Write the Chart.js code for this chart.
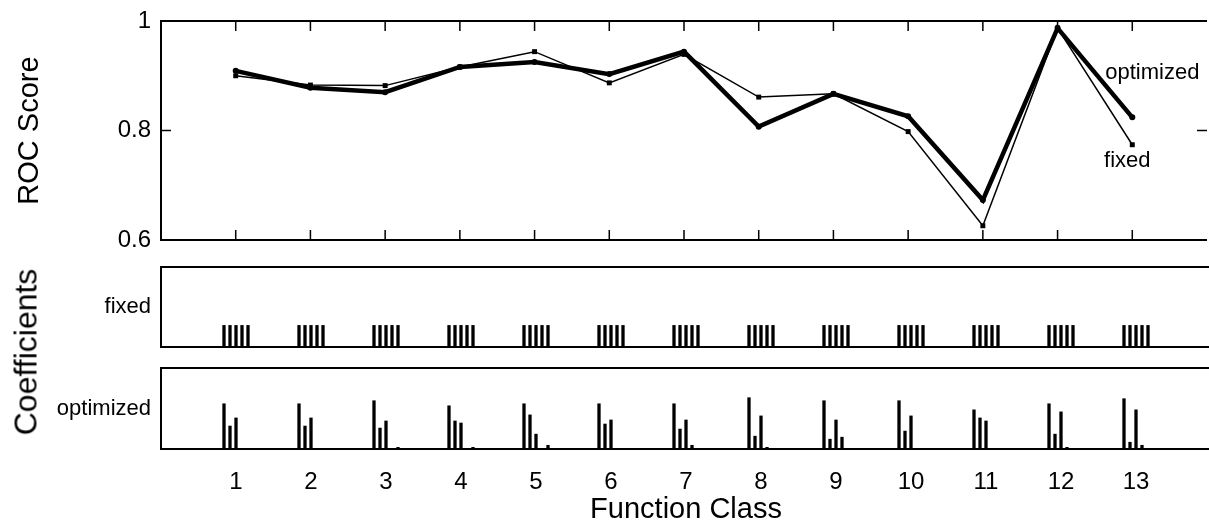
<!DOCTYPE html>
<html>
<head>
<meta charset="utf-8">
<script src="https://cdn.jsdelivr.net/npm/chart.js@4.4.1/dist/chart.umd.min.js"></script>
<style>
  html, body { margin: 0; padding: 0; background: #fff; }
  body { width: 1209px; height: 529px; overflow: hidden; position: relative; font-family: "Liberation Sans", Arial, sans-serif; }
  canvas { position: absolute; left: 0; }
  #roc { top: -9px; }
  #fixed { top: 237px; }
  #opt { top: 338px; }
  .coef-title { position: absolute; left: 26px; top: 352px; transform: translate(-50%, -50%) rotate(-90deg); font-size: 32px; color: #000; white-space: nowrap; }
</style>
</head>
<body>
<canvas id="roc" width="1211" height="279"></canvas>
<canvas id="fixed" width="1211" height="140"></canvas>
<canvas id="opt" width="1211" height="191"></canvas>
<div class="coef-title">Coefficients</div>
<script>
// function classes on the x axis
const classes = [1, 2, 3, 4, 5, 6, 7, 8, 9, 10, 11, 12, 13];
const classLabels = ['1', '2', '3', '4', '5', '6', '7', '8', '9', '10', '11', '12', '13'];

// ROC scores
const rocOptimized = [0.909, 0.878, 0.870, 0.916, 0.925, 0.903, 0.944, 0.807, 0.867, 0.826, 0.673, 0.987, 0.824];
const rocFixed     = [0.900, 0.883, 0.882, 0.916, 0.944, 0.887, 0.939, 0.861, 0.867, 0.798, 0.626, 0.987, 0.774];
const rocTicks = [0.6, 0.8, 1];
const rocTickLabels = ['0.6', '0.8', '1'];

// five coefficients per function class
const fixedCoefs = [
  [0.2, 0.2, 0.2, 0.2, 0.2],
  [0.2, 0.2, 0.2, 0.2, 0.2],
  [0.2, 0.2, 0.2, 0.2, 0.2],
  [0.2, 0.2, 0.2, 0.2, 0.2],
  [0.2, 0.2, 0.2, 0.2, 0.2],
  [0.2, 0.2, 0.2, 0.2, 0.2],
  [0.2, 0.2, 0.2, 0.2, 0.2],
  [0.2, 0.2, 0.2, 0.2, 0.2],
  [0.2, 0.2, 0.2, 0.2, 0.2],
  [0.2, 0.2, 0.2, 0.2, 0.2],
  [0.2, 0.2, 0.2, 0.2, 0.2],
  [0.2, 0.2, 0.2, 0.2, 0.2],
  [0.2, 0.2, 0.2, 0.2, 0.2]
];
const optimizedCoefs = [
  [0.45, 0.23, 0.31, 0, 0],
  [0.45, 0.23, 0.31, 0, 0],
  [0.48, 0.21, 0.28, 0, 0.02],
  [0.43, 0.28, 0.26, 0, 0.02],
  [0.45, 0.34, 0.15, 0, 0.04],
  [0.45, 0.25, 0.29, 0, 0],
  [0.45, 0.20, 0.29, 0.04, 0],
  [0.51, 0.13, 0.33, 0.02, 0],
  [0.48, 0.10, 0.29, 0.12, 0],
  [0.48, 0.18, 0.33, 0, 0],
  [0.39, 0.31, 0.28, 0, 0],
  [0.45, 0.15, 0.37, 0.02, 0],
  [0.50, 0.07, 0.39, 0.04, 0]
];

Chart.defaults.font.family = '"Liberation Sans", Arial, sans-serif';
Chart.defaults.color = '#000';
Chart.defaults.animation = false;
Chart.defaults.plugins.legend.display = false;
Chart.defaults.plugins.tooltip.enabled = false;

const AXIS_WIDTH = 161;
const PAD = 30; // bigger than the half label height + tick padding, so it decides the plot edges

// box around the plot area (no right edge, it sits off the page) + inward ticks
function framePlugin(inwardTicks) {
  return {
    id: 'frame',
    afterDraw(chart) {
      const { ctx, chartArea: a, scales } = chart;
      ctx.save();
      ctx.strokeStyle = '#000';
      ctx.lineWidth = 2;
      ctx.beginPath();
      ctx.moveTo(a.right, a.top);
      ctx.lineTo(a.left, a.top);
      ctx.lineTo(a.left, a.bottom);
      ctx.lineTo(a.right, a.bottom);
      ctx.stroke();
      if (inwardTicks) {
        const len = 10;
        ctx.lineWidth = 1.5;
        ctx.beginPath();
        scales.x.ticks.forEach(t => {
          const px = scales.x.getPixelForValue(t.value);
          ctx.moveTo(px, a.top); ctx.lineTo(px, a.top + len);
          ctx.moveTo(px, a.bottom); ctx.lineTo(px, a.bottom - len);
        });
        scales.y.ticks.forEach(t => {
          const py = scales.y.getPixelForValue(t.value);
          ctx.moveTo(a.left, py); ctx.lineTo(a.left + len, py);
          ctx.moveTo(a.right, py); ctx.lineTo(a.right - len, py);
        });
        ctx.stroke();
      }
      ctx.restore();
    }
  };
}

// "optimized" / "fixed" labels next to the last points
const seriesLabels = {
  id: 'seriesLabels',
  afterDatasetsDraw(chart) {
    const { ctx, scales } = chart;
    const last = classes.length - 1;
    const px = scales.x.getPixelForValue(classes[last]);
    ctx.save();
    ctx.fillStyle = '#000';
    ctx.font = '22px "Liberation Sans", Arial, sans-serif';
    ctx.textAlign = 'center';
    ctx.textBaseline = 'middle';
    ctx.fillText('optimized', px + 20, scales.y.getPixelForValue(rocOptimized[last]) - 44);
    ctx.fillText('fixed', px - 5, scales.y.getPixelForValue(rocFixed[last]) + 16);
    ctx.restore();
  }
};

const classTicks = s => { s.ticks = classes.map(v => ({ value: v })); };

function xScale(show) {
  return {
    type: 'linear',
    display: show,
    min: 0,
    max: 14,
    offset: false,
    afterBuildTicks: classTicks,
    grid: { display: false, drawTicks: false },
    border: { display: false }
  };
}

// ROC score panel
new Chart(document.getElementById('roc'), {
  type: 'line',
  data: {
    datasets: [
      {
        label: 'fixed',
        data: classes.map((c, i) => ({ x: c, y: rocFixed[i] })),
        borderColor: '#000',
        borderWidth: 1.5,
        pointStyle: 'rect',
        pointRadius: 3.5,
        pointBackgroundColor: '#000',
        pointBorderColor: '#000',
        pointBorderWidth: 0,
        tension: 0
      },
      {
        label: 'optimized',
        data: classes.map((c, i) => ({ x: c, y: rocOptimized[i] })),
        borderColor: '#000',
        borderWidth: 4.5,
        pointStyle: 'circle',
        pointRadius: 3,
        pointBackgroundColor: '#000',
        pointBorderColor: '#000',
        pointBorderWidth: 0,
        tension: 0
      }
    ]
  },
  options: {
    responsive: false,
    devicePixelRatio: 1,
    layout: { padding: { top: PAD, bottom: PAD, left: 0, right: 0 } },
    scales: {
      x: xScale(false),
      y: {
        min: 0.6,
        max: 1,
        afterBuildTicks: s => { s.ticks = rocTicks.map(v => ({ value: v })); },
        afterFit: s => { s.width = AXIS_WIDTH; },
        ticks: { font: { size: 24 }, padding: 10, callback: (v, i) => rocTickLabels[i] },
        grid: { display: false, drawTicks: false },
        border: { display: false },
        title: { display: true, text: 'ROC Score', font: { size: 29 }, padding: { top: 13, bottom: 0 } }
      }
    }
  },
  plugins: [framePlugin(true), seriesLabels]
});

function coefDatasets(coefs) {
  return [0, 1, 2, 3, 4].map(k => ({
    label: 'c' + (k + 1),
    data: classes.map((c, i) => ({ x: c, y: coefs[i][k] })),
    backgroundColor: '#000',
    borderWidth: 0,
    categoryPercentage: 0.4,
    barPercentage: 0.55
  }));
}

function coefChart(id, coefs, yMax, name, showX) {
  const x = xScale(showX);
  if (showX) {
    x.ticks = { font: { size: 24 }, padding: 19, maxRotation: 0, autoSkip: false, callback: (v, i) => classLabels[i] };
    x.title = { display: true, text: 'Function Class', font: { size: 29 }, padding: { top: 0, bottom: 2 } };
    x.afterFit = s => { s.height = 80; };
  }
  return new Chart(document.getElementById(id), {
    type: 'bar',
    data: { datasets: coefDatasets(coefs) },
    options: {
      responsive: false,
      devicePixelRatio: 1,
      layout: { padding: { top: PAD, bottom: showX ? 0 : PAD, left: 0, right: 0 } },
      scales: {
        x: x,
        y: {
          min: 0,
          max: yMax,
          afterBuildTicks: s => { s.ticks = [{ value: yMax / 2 }]; },
          afterFit: s => { s.width = AXIS_WIDTH; },
          ticks: { font: { size: 22 }, padding: 10, callback: () => name },
          grid: { display: false, drawTicks: false },
          border: { display: false }
        }
      }
    },
    plugins: [framePlugin(false)]
  });
}

coefChart('fixed', fixedCoefs, 0.73, 'fixed', false);
coefChart('opt', optimizedCoefs, 0.8, 'optimized', true);
</script>
</body>
</html>
